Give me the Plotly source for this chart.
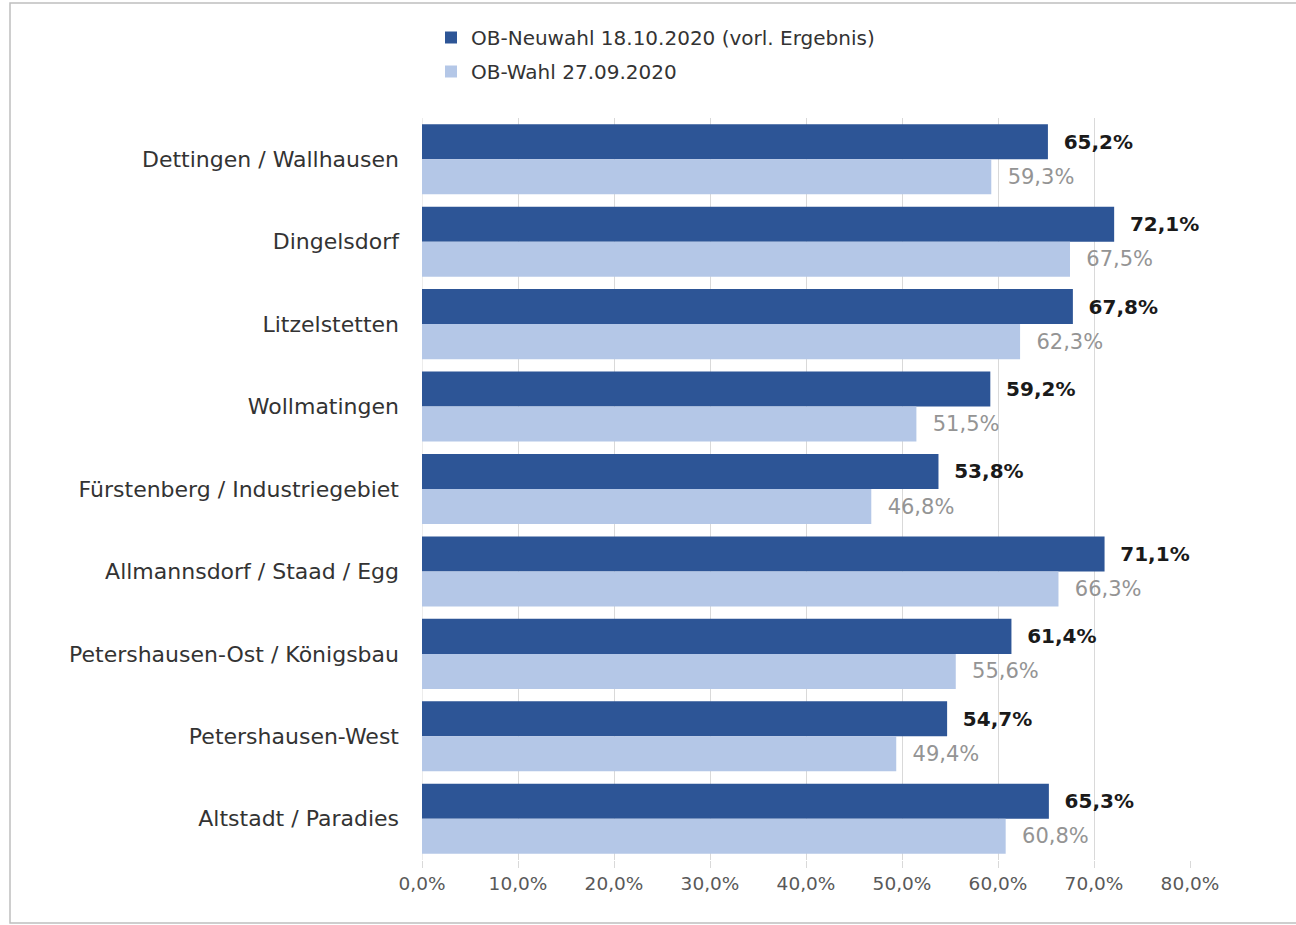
import plotly.graph_objects as go

categories = ["Dettingen / Wallhausen", "Dingelsdorf", "Litzelstetten", "Wollmatingen",
              "Fürstenberg / Industriegebiet", "Allmannsdorf / Staad / Egg",
              "Petershausen-Ost / Königsbau", "Petershausen-West", "Altstadt / Paradies"]
neuwahl = [65.2, 72.1, 67.8, 59.2, 53.8, 71.1, 61.4, 54.7, 65.3]
wahl = [59.3, 67.5, 62.3, 51.5, 46.8, 66.3, 55.6, 49.4, 60.8]
series_names = ["OB-Neuwahl 18.10.2020 (vorl. Ergebnis)", "OB-Wahl 27.09.2020"]
tick_values = [0, 10, 20, 30, 40, 50, 60, 70, 80]
tick_labels = ["0,0%", "10,0%", "20,0%", "30,0%", "40,0%", "50,0%", "60,0%", "70,0%", "80,0%"]

W, H = 1296, 925
L, R, T, B = 422, 1190, 118, 860
FONT = "DejaVu Sans, Liberation Sans, Arial"

def fmt(v):
    return f"{v:.1f}".replace(".", ",") + "%"

fig = go.Figure()
fig.add_trace(go.Bar(y=categories, x=neuwahl, orientation="h", name=series_names[0],
                     legendgroup="a",
                     marker=dict(color="#2D5596", line=dict(width=0)),
                     text=[fmt(v) for v in neuwahl], textposition="outside",
                     texttemplate="  <b>%{text}</b>",
                     textfont=dict(color="#1a1a1a", size=20, family=FONT),
                     cliponaxis=False))
fig.add_trace(go.Bar(y=categories, x=wahl, orientation="h", name=series_names[1],
                     legendgroup="b",
                     marker=dict(color="#B4C7E7", line=dict(width=0)),
                     text=[fmt(v) for v in wahl], textposition="outside",
                     texttemplate="  %{text}",
                     textfont=dict(color="#949494", size=21, family=FONT),
                     cliponaxis=False))

fig.update_layout(
    width=W, height=H,
    margin=dict(l=L, r=W - R, t=T, b=H - B, pad=0),
    paper_bgcolor="white", plot_bgcolor="white",
    barmode="group", bargap=0.15, bargroupgap=0,
    font=dict(family=FONT, color="#333333"),
    showlegend=True,
    legend=dict(orientation="v", x=(431 - L) / (R - L), xanchor="left",
                y=(B - 18) / (B - T), yanchor="top", yref="paper",
                font=dict(size=20, color="#333333", family=FONT),
                traceorder="grouped", tracegroupgap=5,
                bgcolor="rgba(0,0,0,0)", itemwidth=30),
)
fig.update_xaxes(range=[0, 80], tickvals=tick_values, ticktext=tick_labels,
                 showgrid=True, gridcolor="#d9d9d9", gridwidth=1,
                 zeroline=False, showline=False,
                 ticks="outside", ticklen=7, tickcolor="#d9d9d9",
                 tickfont=dict(size=18.5, color="#595959", family=FONT))
fig.update_yaxes(autorange="reversed", showgrid=False, zeroline=False,
                 showline=False, ticks="", ticklabelstandoff=22,
                 tickfont=dict(size=22, color="#333333", family=FONT))

fig.add_shape(type="line", xref="x", yref="paper", x0=0, x1=0, y0=0, y1=1,
              line=dict(color="#d9d9d9", width=1), layer="below")
fig.add_shape(type="rect", xref="paper", yref="paper",
              x0=(10 - L) / (R - L), x1=(1300 - L) / (R - L),
              y0=(B - 923) / (B - T), y1=(B - 3) / (B - T),
              line=dict(color="#bfbfbf", width=1.5), fillcolor="rgba(0,0,0,0)", layer="below")

fig.write_html("out.html")
